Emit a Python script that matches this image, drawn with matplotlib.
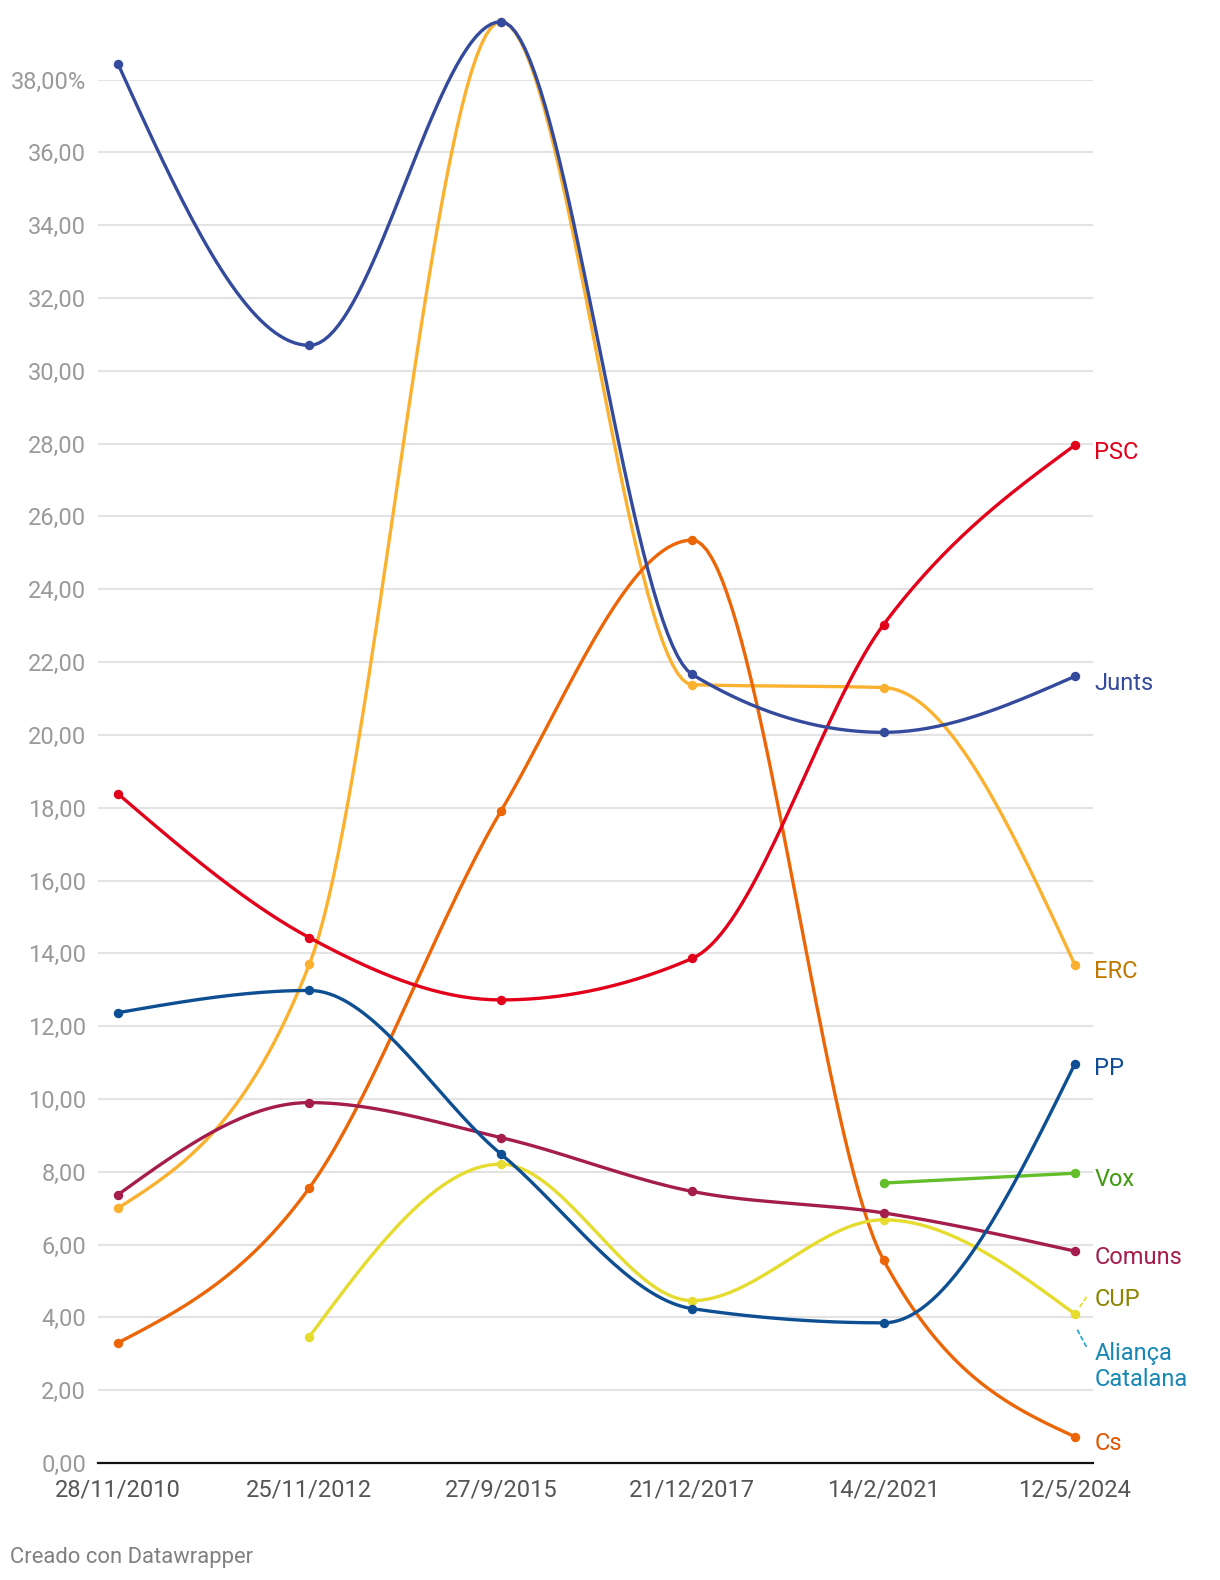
import numpy as np
import matplotlib.pyplot as plt

plt.rcParams['font.family'] = ['Roboto', 'DejaVu Sans']

fechas = ["28/11/2010", "25/11/2012", "27/9/2015", "21/12/2017", "14/2/2021", "12/5/2024"]

# porcentaje de voto por partido (None = no se presentó)
erc = [7.00, 13.70, 39.59, 21.38, 21.30, 13.68]
cs = [3.30, 7.56, 17.90, 25.35, 5.57, 0.72]
cup = [None, 3.47, 8.21, 4.46, 6.68, 4.09]
vox = [None, None, None, None, 7.69, 7.96]
comuns = [7.37, 9.90, 8.94, 7.46, 6.87, 5.82]
psc = [18.38, 14.43, 12.72, 13.86, 23.03, 27.96]
pp = [12.37, 12.98, 8.49, 4.24, 3.85, 10.97]
junts = [38.43, 30.70, 39.59, 21.66, 20.07, 21.61]
alianca = [None, None, None, None, None, 3.78]

series = [
    ("ERC", erc, "#fbb130", "#c07800"),
    ("Cs", cs, "#ec6608", "#e05500"),
    ("CUP", cup, "#e5dc2f", "#8a8400"),
    ("Vox", vox, "#63be2a", "#3f9a10"),
    ("Comuns", comuns, "#a41d4c", "#a41d4c"),
    ("PSC", psc, "#e2001a", "#e2001a"),
    ("PP", pp, "#0d4f92", "#0d4f92"),
    ("Junts", junts, "#344a9c", "#344a9c"),
]

# desplazamiento vertical de las etiquetas (px, positivo = arriba)
label_dy = {"CUP": 15, "Cs": -7, "PSC": -7, "Junts": -7, "ERC": -7, "PP": -5, "Vox": -6, "Comuns": -6}


def monotone_x(x, y, n=40):
    # curva monótona tipo d3.curveMonotoneX
    x = np.asarray(x, float)
    y = np.asarray(y, float)
    if len(x) < 2:
        return x, y
    h = np.diff(x)
    s = np.diff(y) / h
    t = np.zeros(len(x))
    for i in range(1, len(x) - 1):
        p = (s[i - 1] * h[i] + s[i] * h[i - 1]) / (h[i - 1] + h[i])
        t[i] = (np.sign(s[i - 1]) + np.sign(s[i])) * min(abs(s[i - 1]), abs(s[i]), 0.5 * abs(p))
    if len(x) == 2:
        t[0] = t[1] = s[0]
    else:
        t[0] = (3 * s[0] - t[1]) / 2
        t[-1] = (3 * s[-1] - t[-2]) / 2
    xs, ys = [], []
    for i in range(len(x) - 1):
        u = np.linspace(0, 1, n)
        h00 = 2 * u**3 - 3 * u**2 + 1
        h10 = u**3 - 2 * u**2 + u
        h01 = -2 * u**3 + 3 * u**2
        h11 = u**3 - u**2
        xs.append(x[i] + u * h[i])
        ys.append(h00 * y[i] + h10 * h[i] * t[i] + h01 * y[i + 1] + h11 * h[i] * t[i + 1])
    return np.concatenate(xs), np.concatenate(ys)


W, H = 1220, 1580
fig = plt.figure(figsize=(W / 100, H / 100), dpi=100)
# ejes en px: izq 98, der 1093, base 1463, línea 38 en 79.6
ax = fig.add_axes([98 / W, 1 - 1463 / H, (1093 - 98) / W, (1463 - 79.6) / H])
step = (1075 - 118) / 5
ax.set_xlim(-20 / step, 5 + 18 / step)
ax.set_ylim(0, 38)

yticks = np.arange(0, 39, 2)
ax.set_yticks(yticks)
ax.set_yticklabels([f"{v:.2f}".replace(".", ",") + ("%" if v == 38 else "") for v in yticks],
                   fontsize=17, color="#9a9a9a")
ax.set_xticks(range(len(fechas)))
ax.set_xticklabels(fechas, fontsize=17, color="#555555")
ax.tick_params(axis="both", length=0)
ax.tick_params(axis="y", pad=8.5)
ax.tick_params(axis="x", pad=11)
for v in yticks[1:]:
    ax.axhline(v, color="#e3e3e3", lw=1.5, zorder=0)
for sp in ["top", "right", "left"]:
    ax.spines[sp].set_visible(False)
ax.spines["bottom"].set_color("#111111")
ax.spines["bottom"].set_linewidth(1.6)
ax.spines["bottom"].set_zorder(1)

idx = np.arange(len(fechas))
for z, (name, vals, col, lcol) in enumerate(series, start=3):
    xv = [i for i, v in zip(idx, vals) if v is not None]
    yv = [v for v in vals if v is not None]
    cx, cy = monotone_x(xv, yv)
    ax.plot(cx, cy, color=col, lw=2.4, solid_capstyle="round", clip_on=False, zorder=z)
    ax.plot(xv, yv, "o", color=col, ms=6.8, mec="none", clip_on=False, zorder=z)
    ax.annotate(name, (xv[-1], yv[-1]), xytext=(14, label_dy[name] * 0.72),
                textcoords="offset points", ha="left", va="center",
                fontsize=17, color=lcol)

# Aliança Catalana: un solo punto, tapado por CUP; solo etiqueta
ax.annotate("Aliança\nCatalana", (5, alianca[-1]), xytext=(14, -41 * 0.72),
            textcoords="offset points", ha="left", va="center",
            fontsize=17, color="#1787b5", linespacing=1.15)

# conectores de las etiquetas solapadas
ax.annotate("", (5, cup[-1]), xytext=(8, 12), textcoords="offset points",
            arrowprops=dict(arrowstyle="-", color="#e5dc2f", lw=1.3, ls=(0, (2, 2)),
                            shrinkA=0, shrinkB=5))
ax.annotate("", (5, alianca[-1]), xytext=(8, -15), textcoords="offset points",
            arrowprops=dict(arrowstyle="-", color="#2aa6d8", lw=1.3, ls=(0, (2, 2)),
                            shrinkA=0, shrinkB=2))

fig.text(10 / W, 1 - 1557 / H, "Creado con Datawrapper", fontsize=15.8, color="#808080",
         ha="left", va="center")

fig.savefig("out.png", dpi=100)
